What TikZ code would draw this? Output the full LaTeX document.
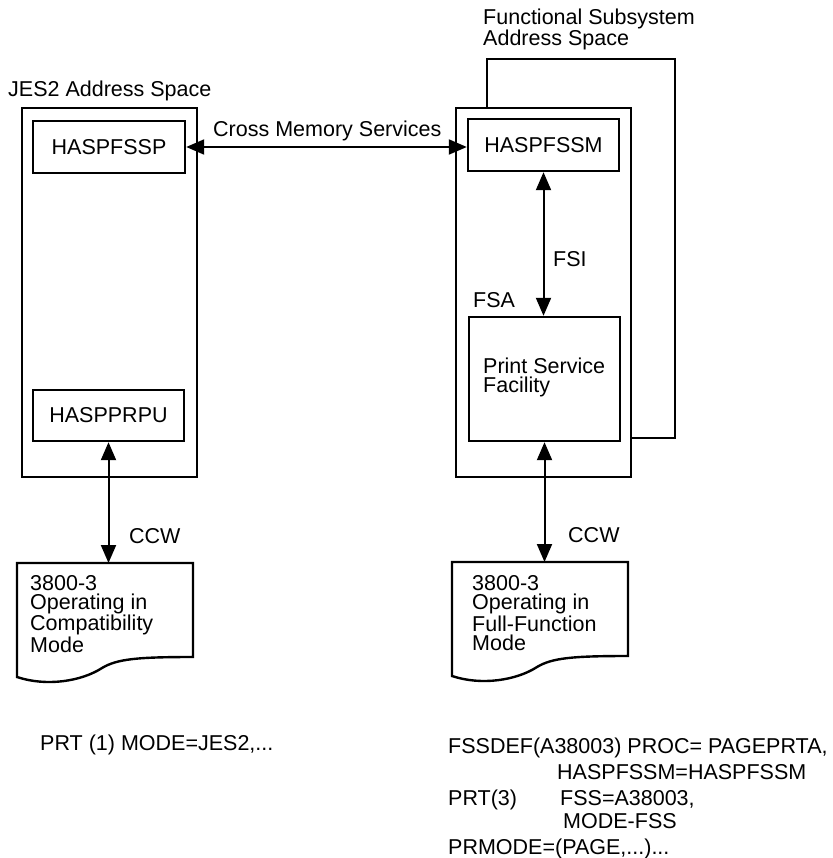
\documentclass[tikz,border=0pt]{standalone}
\usepackage{fontspec}
\setmainfont{Liberation Sans}
\usepackage{tikz}
\usetikzlibrary{calc,arrows.meta,positioning}
\newcommand{\fs}{\fontsize{21.5}{19}\selectfont}
\tikzset{
  ln/.style={line width=2.4pt,line join=miter},
  box/.style={draw,ln,inner sep=0pt,fill=white},
  ar/.style={{Triangle[length=18pt,width=15pt]}-{Triangle[length=18pt,width=15pt]},line width=2pt},
  lbl/.style={font=\fs,inner sep=0pt,anchor=base west,align=left},
  docframe/.pic={\draw[ln] (0,0) -- (176,0) -- (176,94)
    .. controls (120,94) and (100,96) .. (85,105)
    .. controls (65,118) and (30,124) .. (0,114) -- cycle;}
}
\begin{document}
\begin{tikzpicture}[x=1pt,y=-1pt]
\useasboundingbox (0,0) rectangle (832,858);
% address spaces
\node[box,minimum width=188pt,minimum height=379pt] (back) at (581,248.5) {};
\node[box,minimum width=175pt,minimum height=369pt] (jes) at (109.5,292.5) {};
\node[box,minimum width=175pt,minimum height=369pt] (fsm) at (543.5,292.5) {};
\node[box,minimum width=152pt,minimum height=52pt,font=\fs] (fssp) at (109,147) {HASPFSSP};
\node[box,minimum width=151pt,minimum height=51pt,font=\fs] (prpu) at (108.5,415.5) {HASPPRPU};
\node[box,minimum width=151pt,minimum height=52pt,font=\fs] (fssm) at (543.5,145) {HASPFSSM};
\node[box,minimum width=151pt,minimum height=124pt] (psf) at (544.5,379) {};
% printers
\node[inner sep=0pt,minimum width=176pt,minimum height=115pt,anchor=north west] (docL) at (17,563) {};
\node[inner sep=0pt,minimum width=176pt,minimum height=113pt,anchor=north west] (docR) at (452,562) {};
\pic at (docL.north west) {docframe};
\pic at (docR.north west) {docframe};
% connectors
\draw[ar] (fssp.east) -- (fssp.east -| fssm.west);
\draw[ar] (fssm.south) -- (fssm.south |- psf.north);
\draw[ar] (prpu.south) -- (prpu.south |- docL.north);
\draw[ar] (psf.south) -- (psf.south |- docR.north);
% labels
\node[lbl] (jesT) at (8,97) {JES2 Address Space};
\node[lbl] (fssT) at (483,46) {Functional Subsystem\\Address Space};
\node[lbl] (xmsT) at (213,137) {Cross Memory Services};
\node[lbl] (fsiT) at (553,266) {FSI};
\node[lbl] (fsaT) at (473,307) {FSA};
\node[lbl] (psfT) at (483,392) {Print Service\\Facility};
\node[lbl] (ccwL) at (129,543) {CCW};
\node[lbl] (ccwR) at (568,542) {CCW};
\node[lbl] (docLT) at (30,652) {3800-3\\Operating in\\Compatibility\\Mode};
\node[lbl] (docRT) at (472,650) {3800-3\\Operating in\\Full-Function\\Mode};
% initialization statements
\node[lbl] (cfgL) at (40,750) {PRT (1) MODE=JES2,...};
\node[lbl] (cfgA) at (448,753) {FSSDEF(A38003) PROC= PAGEPRTA,};
\node[lbl] (cfgB) at (557,779) {HASPFSSM=HASPFSSM};
\node[lbl] (cfgC) at (448,805) {PRT(3)};
\node[lbl] (cfgD) at (560,805) {FSS=A38003,};
\node[lbl] (cfgE) at (563,828) {MODE-FSS};
\node[lbl] (cfgF) at (448,854) {PRMODE=(PAGE,...)...};
\end{tikzpicture}
\end{document}
